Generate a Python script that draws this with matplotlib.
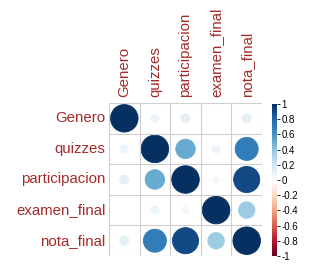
import numpy as np
import matplotlib
matplotlib.use("Agg")
import matplotlib.pyplot as plt
from matplotlib.colors import LinearSegmentedColormap, Normalize
from matplotlib.patches import Circle
from matplotlib.colorbar import ColorbarBase

plt.rcParams["font.family"] = ["Liberation Sans", "DejaVu Sans"]

variables = ["Genero", "quizzes", "participacion", "examen_final", "nota_final"]
corr = np.array([
    [1.00, 0.08, 0.11, 0.00, 0.11],
    [0.08, 1.00, 0.50, 0.08, 0.70],
    [0.11, 0.50, 1.00, 0.06, 0.90],
    [0.00, 0.08, 0.06, 1.00, 0.36],
    [0.11, 0.70, 0.90, 0.36, 1.00],
])
cbar_ticks = [1, 0.8, 0.6, 0.4, 0.2, 0, -0.2, -0.4, -0.6, -0.8, -1]

col2 = ["#67001F", "#B2182B", "#D6604D", "#F4A582", "#FDDBC7", "#FFFFFF",
        "#D1E5F0", "#92C5DE", "#4393C3", "#2166AC", "#053061"]
cmap = LinearSegmentedColormap.from_list("corr", col2)
norm = Normalize(-1, 1)
label_color = "#a52a2a"

fig = plt.figure(figsize=(3.14, 2.64), dpi=100)
ax = fig.add_axes([109 / 314, 8 / 264, 153 / 314, 153 / 264])
n = len(variables)
for i in range(n):
    for j in range(n):
        r = corr[i, j]
        if abs(r) > 0:
            ax.add_patch(Circle((j + 0.5, n - i - 0.5), 0.45 * np.sqrt(abs(r)),
                                facecolor=cmap(norm(r)), edgecolor=cmap(norm(r)), lw=0.6))
for k in range(n + 1):
    ax.axhline(k, color="#cfcfcf", lw=0.8)
    ax.axvline(k, color="#cfcfcf", lw=0.8)
ax.set_xlim(0, n)
ax.set_ylim(0, n)
ax.set_xticks([])
ax.set_yticks([])
for s in ax.spines.values():
    s.set_visible(False)

for k, name in enumerate(variables):
    ax.text(-0.12, n - k - 0.5, name, ha="right", va="center", color=label_color, fontsize=10.8)
    ax.text(k + 0.5, n + 0.2, name, ha="center", va="bottom", rotation=90, color=label_color, fontsize=10.8)

cax = fig.add_axes([272 / 314, 8 / 264, 5 / 314, 152 / 264])
cb = ColorbarBase(cax, cmap=cmap, norm=norm, orientation="vertical")
cb.set_ticks(cbar_ticks)
cb.set_ticklabels([f"{t:g}" for t in cbar_ticks])
cb.outline.set_visible(False)
cax.tick_params(labelsize=7, length=2, width=0.6, pad=1)

fig.savefig("out.png", dpi=100)
